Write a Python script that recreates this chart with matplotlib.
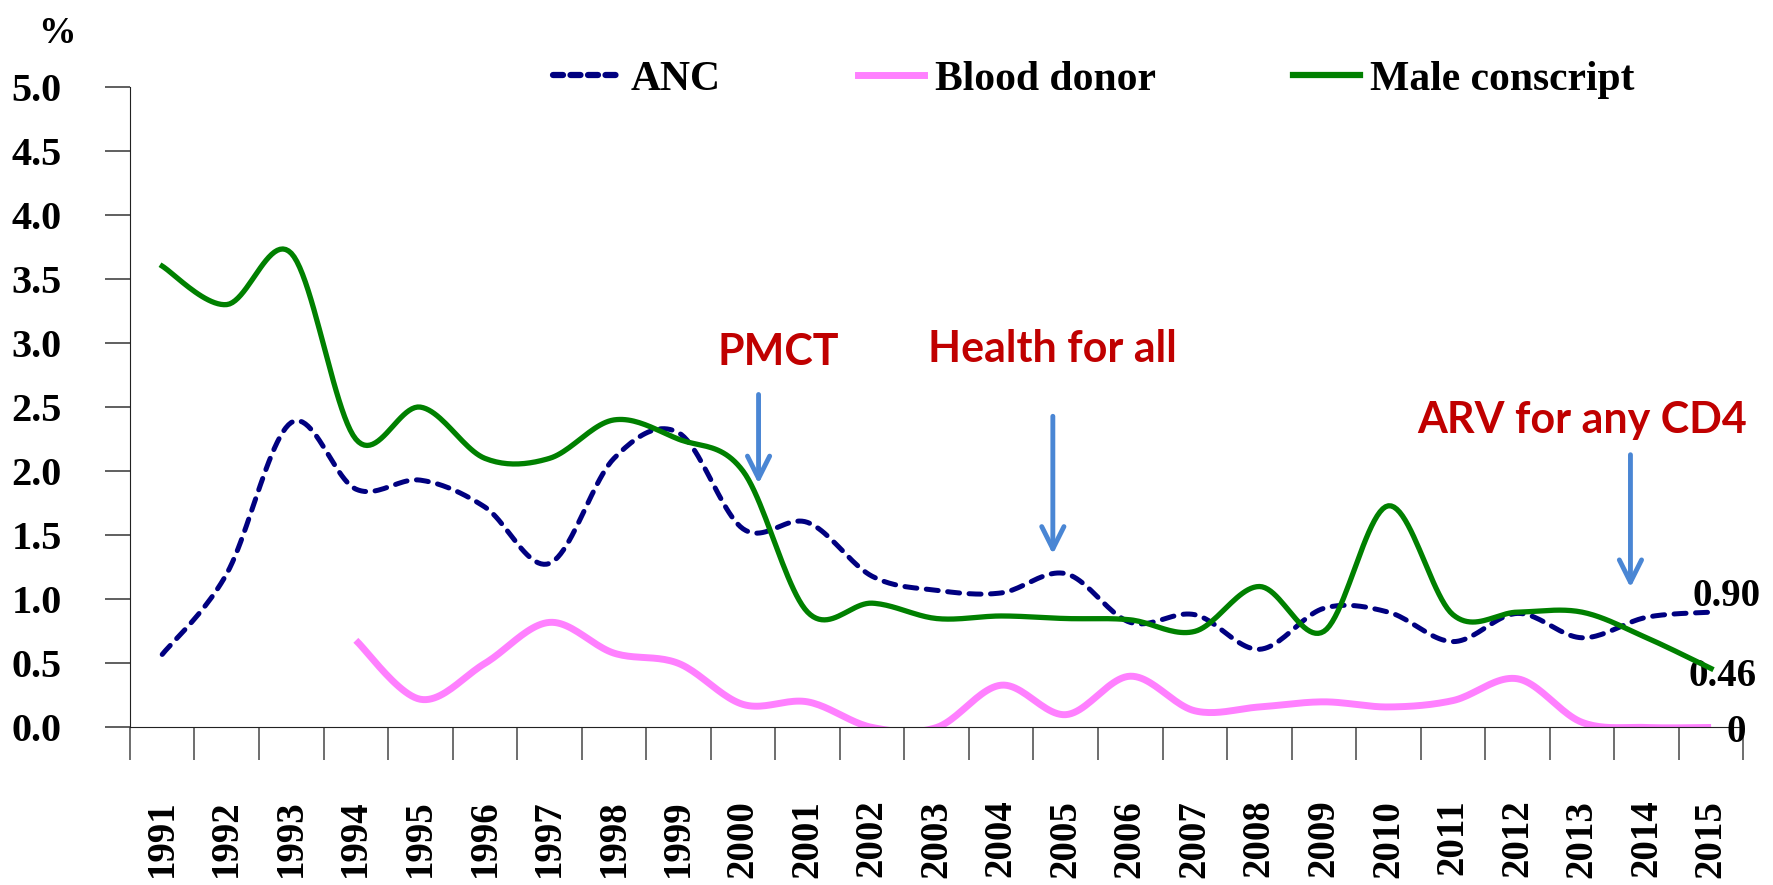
import numpy as np
import matplotlib
matplotlib.use('Agg')
import matplotlib.pyplot as plt
from matplotlib.lines import Line2D
from matplotlib.transforms import blended_transform_factory

years = [str(y) for y in range(1991, 2016)]
anc = [0.57, 1.20, 2.38, 1.86, 1.93, 1.72, 1.28, 2.10, 2.30, 1.55, 1.60, 1.18, 1.07,
       1.05, 1.20, 0.82, 0.88, 0.61, 0.93, 0.90, 0.67, 0.89, 0.70, 0.86, 0.90]
blood_donor = [None, None, None, 0.68, 0.22, 0.50, 0.82, 0.58, 0.50, 0.18, 0.20, 0.00, 0.00,
               0.33, 0.10, 0.40, 0.13, 0.16, 0.20, 0.16, 0.21, 0.38, 0.04, 0.00, 0.00]
male_conscript = [3.60, 3.30, 3.70, 2.25, 2.50, 2.10, 2.10, 2.40, 2.25, 2.00, 0.90, 0.97, 0.85,
                  0.87, 0.85, 0.84, 0.75, 1.10, 0.75, 1.73, 0.88, 0.90, 0.90, 0.70, 0.46]
end_labels = ['0.90', '0.46', '0']

serif = 'Liberation Serif'


def smooth(vals, n=24):
    # excel style smoothed line: bezier through the points
    idx = [i for i, v in enumerate(vals) if v is not None]
    x = np.array(idx, dtype=float)
    y = np.array([vals[i] for i in idx], dtype=float)
    xs, ys = [], []
    t = np.linspace(0, 1, n)
    for i in range(len(x) - 1):
        i0 = max(i - 1, 0)
        i3 = min(i + 2, len(x) - 1)
        p0 = np.array([x[i0], y[i0]])
        p1 = np.array([x[i], y[i]])
        p2 = np.array([x[i + 1], y[i + 1]])
        p3 = np.array([x[i3], y[i3]])
        c1 = p1 + (p2 - p0) / 6
        c2 = p2 - (p3 - p1) / 6
        b = ((1 - t) ** 3)[:, None] * p1 + (3 * (1 - t) ** 2 * t)[:, None] * c1 \
            + (3 * (1 - t) * t ** 2)[:, None] * c2 + (t ** 3)[:, None] * p2
        xs.extend(b[:, 0])
        ys.extend(b[:, 1])
    return np.array(xs), np.array(ys)


fig = plt.figure(figsize=(17.73, 8.85), dpi=100)
ax = fig.add_axes([0.0733, 0.178, 0.910, 0.724])

navy = '#000080'
pink = '#FF80FF'
green = '#008000'

x, y = smooth(anc)
ax.plot(x, y, color=navy, lw=3.6, dashes=(2.4, 1.9), dash_capstyle='round', zorder=3)
x, y = smooth(blood_donor)
ax.plot(x, y, color=pink, lw=5, solid_capstyle='butt', zorder=2)
x, y = smooth(male_conscript)
ax.plot(x, y, color=green, lw=3.8, zorder=4)

ax.set_xlim(-0.5, len(years) - 0.5)
ax.set_ylim(0, 5)
ax.set_yticks(np.arange(0, 5.01, 0.5))
ax.set_yticklabels(['%.1f' % v for v in np.arange(0, 5.01, 0.5)])
ax.set_xticks(np.arange(-0.5, len(years), 1.0))
ax.set_xticklabels([])
ax.set_xticks(range(len(years)), minor=True)
ax.set_xticklabels(years, minor=True, rotation=90)

for s in ['top', 'right']:
    ax.spines[s].set_visible(False)
ax.spines['left'].set_color('#222222')
ax.spines['bottom'].set_color('#222222')
ax.tick_params(axis='y', length=18, width=1.2, color='#444444', pad=31,
               labelsize=29)
ax.tick_params(axis='x', which='major', length=24, width=1.2, color='#555555')
ax.tick_params(axis='x', which='minor', length=0, pad=52, labelsize=28)
for lab in ax.get_yticklabels() + ax.get_xticklabels(minor=True):
    lab.set_fontfamily(serif)
    lab.set_fontweight('bold')

fig.text(0.032, 0.962, '%', family=serif, weight='bold', fontsize=27,
         ha='center', va='center')

handles = [Line2D([], [], color=navy, lw=4.5, dashes=(1.6, 1.2), dash_capstyle='round'),
           Line2D([], [], color=pink, lw=5),
           Line2D([], [], color=green, lw=4.5)]
fig.legend(handles, ['ANC', 'Blood donor', 'Male conscript'], loc='center',
           bbox_to_anchor=(0.617, 0.91), ncol=3, frameon=False,
           prop={'family': serif, 'weight': 'bold', 'size': 30},
           handlelength=1.6, handletextpad=0.25, columnspacing=3.3)

red = '#C00000'
blue = '#4A86D4'
ann_font = dict(family='Lato', weight='bold', fontsize=31, color=red,
                ha='center', va='center')
arrow = dict(arrowstyle='->', color=blue, lw=3.5, mutation_scale=40)
ax.text(9.55, 2.93, 'PMCT', **ann_font)
ax.annotate('', xy=(9.24, 1.88), xytext=(9.24, 2.62), arrowprops=arrow)
ax.text(13.8, 2.95, 'Health for all', **ann_font)
ax.annotate('', xy=(13.8, 1.33), xytext=(13.8, 2.45), arrowprops=arrow)
ax.text(22.0, 2.4, 'ARV for any CD4', **ann_font)
ax.annotate('', xy=(22.75, 1.07), xytext=(22.75, 2.15), arrowprops=arrow)

# value labels at the right edge
trans = blended_transform_factory(fig.transFigure, ax.transData)
end_y = [1.02, 0.40, -0.04]
end_x = [0.993, 0.991, 0.985]
for lab, xx, yy in zip(end_labels, end_x, end_y):
    ax.text(xx, yy, lab, transform=trans, family=serif, weight='bold', fontsize=28,
            ha='right', va='center', clip_on=False)

fig.savefig('out.png', dpi=100)
